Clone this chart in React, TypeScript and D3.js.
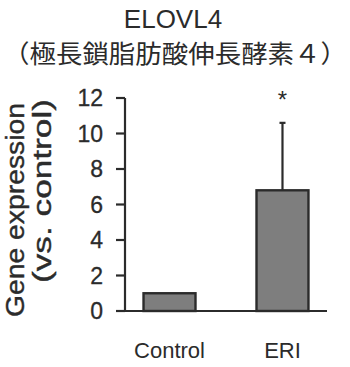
import React from "react";
import * as d3 from "d3";

const categories = ["Control", "ERI"];
const values = [1.0, 6.8];
const errors = [0, 3.8];
const significance = ["", "*"];
const yTicks = [0, 2, 4, 6, 8, 10, 12];
const title = "ELOVL4";
const subtitle = "（極長鎖脂肪酸伸長酵素４）";
const yTitle1 = "Gene expression";
const yTitle2 = "(vs. control)";

export default function App() {
  const W = 350, H = 367;
  const left = 125, right = 327, top = 98, bottom = 311;
  const y = d3.scaleLinear().domain([0, 12]).range([bottom, top]);
  const x = d3.scaleBand().domain(categories).range([left, right]).paddingInner(0.54).paddingOuter(0.164);
  const txt = "#2b2b2b";
  const font = "'Liberation Sans', Arial, sans-serif";
  return (
    <svg width={W} height={H} style={{ position: "absolute", left: 0, top: 0 }}>
      <rect width={W} height={H} fill="#fff" />
      <text x={173} y={28} textAnchor="middle" fontFamily={font} fontSize={26} fill={txt}>{title}</text>
      <text x={175} y={63} textAnchor="middle" fontFamily="'Noto Sans CJK JP', sans-serif" fontSize={25} fill={txt} textLength={344} lengthAdjust="spacingAndGlyphs">{subtitle}</text>
      {/* y axis */}
      <line x1={left} x2={left} y1={top} y2={bottom} stroke={txt} strokeWidth={2.2} />
      {yTicks.map((t) => (
        <g key={t}>
          <line x1={left - 9} x2={left} y1={y(t)} y2={y(t)} stroke={txt} strokeWidth={2.2} />
          <text x={103} y={y(t)} dy="0.36em" textAnchor="end" fontFamily={font} fontSize={23} fill={txt} stroke={txt} strokeWidth={0.3}>{t}</text>
        </g>
      ))}
      {/* bars */}
      {categories.map((c, i) => {
        const bx = x(c)!;
        const bw = x.bandwidth();
        const cx = bx + bw / 2;
        return (
          <g key={c}>
            {errors[i] > 0 && (
              <g>
                <line x1={cx} x2={cx} y1={y(values[i])} y2={y(values[i] + errors[i])} stroke={txt} strokeWidth={2.2} />
                <line x1={cx - 3} x2={cx + 3} y1={y(values[i] + errors[i])} y2={y(values[i] + errors[i])} stroke={txt} strokeWidth={2.2} />
              </g>
            )}
            <rect x={bx} y={y(values[i])} width={bw} height={bottom - y(values[i])} fill="#7e7e7e" stroke={txt} strokeWidth={2.4} />
            <text x={cx} y={358} textAnchor="middle" fontFamily={font} fontSize={22} fill={txt}>{c}</text>
            {significance[i] && (
              <text x={cx} y={108} textAnchor="middle" fontFamily={font} fontSize={24} fill={txt}>{significance[i]}</text>
            )}
          </g>
        );
      })}
      <line x1={left} x2={right} y1={bottom} y2={bottom} stroke={txt} strokeWidth={2.2} />
      {/* y title */}
      <text transform={`translate(24,210) rotate(-90)`} textAnchor="middle" fontFamily={font} fontSize={26} fill={txt} stroke={txt} strokeWidth={0.4} textLength={214} lengthAdjust="spacingAndGlyphs">{yTitle1}</text>
      <text transform={`translate(51,191) rotate(-90)`} textAnchor="middle" fontFamily={font} fontSize={26} fill={txt} stroke={txt} strokeWidth={0.4} textLength={184} lengthAdjust="spacingAndGlyphs">{yTitle2}</text>
    </svg>
  );
}
